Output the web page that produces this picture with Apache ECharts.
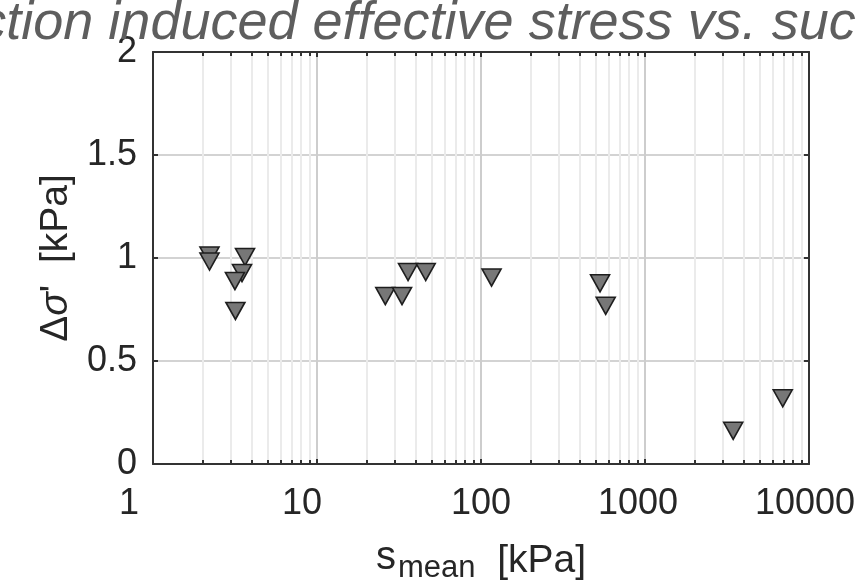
<!DOCTYPE html>
<html><head><meta charset="utf-8">
<script src="https://cdn.jsdelivr.net/npm/echarts@6/dist/echarts.min.js"></script>
<style>html,body{margin:0;padding:0;background:#fff;overflow:hidden}#c{width:856px;height:580px}</style>
</head><body><div id="c"></div>
<script>
// ---- data ----
const titleText = 'Suction induced effective stress vs. suction';
const sMean  = [2.21, 2.21, 3.64, 3.49, 3.16, 3.18, 26.1, 33.0, 35.9, 46.0, 116, 532, 576, 3450, 6915];
const dSigma = [1.012, 0.983, 1.005, 0.927, 0.888, 0.743, 0.815, 0.815, 0.932, 0.932, 0.905, 0.877, 0.768, 0.161, 0.319];
const xTickLabels = ['1', '10', '100', '1000', '10000'];
const yTickLabels = ['0', '0.5', '1', '1.5', '2'];

// ---- helpers (axis decoration) ----
const FONT = 'Liberation Sans, Arial, Helvetica, sans-serif';
const AX = '#333333';
const minorVals = [];
[1, 10, 100, 1000].forEach(d => { for (let k = 2; k <= 9; k++) minorVals.push(d * k); });
const minorGrid = minorVals.map(v => [{coord: [v, 0]}, {coord: [v, 2]}]);
const minorTicks = [];
minorVals.forEach(v => {
  minorTicks.push([{coord: [v, 0]}, {coord: [v, 0.02]}]);
  minorTicks.push([{coord: [v, 2]}, {coord: [v, 1.98]}]);
});
// horizontal nudges of x tick labels (px, negative = left)
const xShift = {'1': -24, '10': -15, '100': 0, '1000': -7, '10000': -4};
const xRich = {};
xTickLabels.forEach((t, i) => {
  const s = xShift[t];
  xRich['t' + i] = {fontSize: 36, fontFamily: FONT, color: '#262626',
    padding: s < 0 ? [0, -2 * s, 0, 0] : [0, 0, 0, 2 * s]};
});

const chart = echarts.init(document.getElementById('c'), null, {renderer: 'canvas'});
const scatterData = sMean.map((x, i) => [x, dSigma[i]]);

chart.setOption({
  animation: false,
  backgroundColor: '#ffffff',
  title: {
    text: titleText, left: 'center', top: -3, padding: [0, 0, 0, 16],
    textStyle: {fontSize: 54, fontStyle: 'italic', fontWeight: 'normal', color: '#5e5e5e', fontFamily: FONT}
  },
  grid: {left: 153, right: 47, top: 52, bottom: 116, containLabel: false, outerBoundsMode: 'none'},
  xAxis: [{
    type: 'log', logBase: 10, min: 1, max: 10000, position: 'bottom',
    axisLine: {show: true, onZero: false, lineStyle: {color: AX, width: 2}},
    axisTick: {show: true, inside: true, length: 5, lineStyle: {color: AX, width: 2}},
    axisLabel: {
      margin: 22, fontSize: 36, fontFamily: FONT, color: '#262626',
      formatter: v => { const t = String(Math.round(v)); const i = xTickLabels.indexOf(t); return i < 0 ? '' : '{t' + i + '|' + t + '}'; },
      rich: xRich
    },
    splitLine: {show: true, lineStyle: {color: '#cdcdcd', width: 2}},
    name: '{s|s}{m|mean}{k|  [kPa]}', nameLocation: 'middle', nameGap: 67,
    nameTextStyle: {
      rich: {
        s: {fontSize: 40, fontFamily: FONT, color: '#262626'},
        m: {fontSize: 31, fontFamily: FONT, color: '#262626', padding: [22, 0, 0, 2]},
        k: {fontSize: 39, fontFamily: FONT, color: '#262626', padding: [8, 0, 0, 0]}
      }
    }
  }, {
    type: 'log', logBase: 10, min: 1, max: 10000, position: 'top',
    axisLine: {show: true, onZero: false, lineStyle: {color: AX, width: 2}},
    axisTick: {show: true, inside: true, length: 5, lineStyle: {color: AX, width: 2}},
    axisLabel: {show: false}, splitLine: {show: false}
  }],
  yAxis: [{
    type: 'value', min: 0, max: 2, interval: 0.5, position: 'left',
    axisLine: {show: true, onZero: false, lineStyle: {color: AX, width: 2}},
    axisTick: {show: true, inside: true, length: 5, lineStyle: {color: AX, width: 2}},
    axisLabel: {margin: 16, fontSize: 36, fontFamily: FONT, color: '#262626',
      formatter: v => yTickLabels[Math.round(v * 2)] ?? ''},
    splitLine: {show: true, lineStyle: {color: '#d3d3d3', width: 2}},
    name: '{a|Δ}{g|σ}{a|\'  [kPa]}', nameLocation: 'middle', nameGap: 74, nameRotate: 90,
    nameTextStyle: {
      rich: {
        a: {fontSize: 39, fontFamily: FONT, color: '#262626'},
        g: {fontSize: 39, fontFamily: FONT, color: '#262626', fontStyle: 'italic'}
      }
    }
  }, {
    type: 'value', min: 0, max: 2, interval: 0.5, position: 'right',
    axisLine: {show: true, onZero: false, lineStyle: {color: AX, width: 2}},
    axisTick: {show: true, inside: true, length: 5, lineStyle: {color: AX, width: 2}},
    axisLabel: {show: false}, splitLine: {show: false}
  }],
  series: [{
    type: 'line', data: [], silent: true, z: 1,
    markLine: {
      silent: true, symbol: 'none', z: 1, animation: false,
      label: {show: false},
      lineStyle: {color: '#ebebeb', width: 2, type: 'solid'},
      emphasis: {disabled: true},
      data: minorGrid
    }
  }, {
    type: 'line', data: [], silent: true, z: 6,
    markLine: {
      silent: true, symbol: 'none', z: 6, animation: false,
      label: {show: false},
      lineStyle: {color: AX, width: 2, type: 'solid'},
      emphasis: {disabled: true},
      data: minorTicks
    }
  }, {
    type: 'scatter', z: 5,
    symbol: 'triangle', symbolRotate: 180, symbolSize: [19, 17],
    itemStyle: {color: '#777777', borderColor: '#1e1e1e', borderWidth: 1.6, opacity: 1},
    data: scatterData
  }]
});
</script></body></html>
